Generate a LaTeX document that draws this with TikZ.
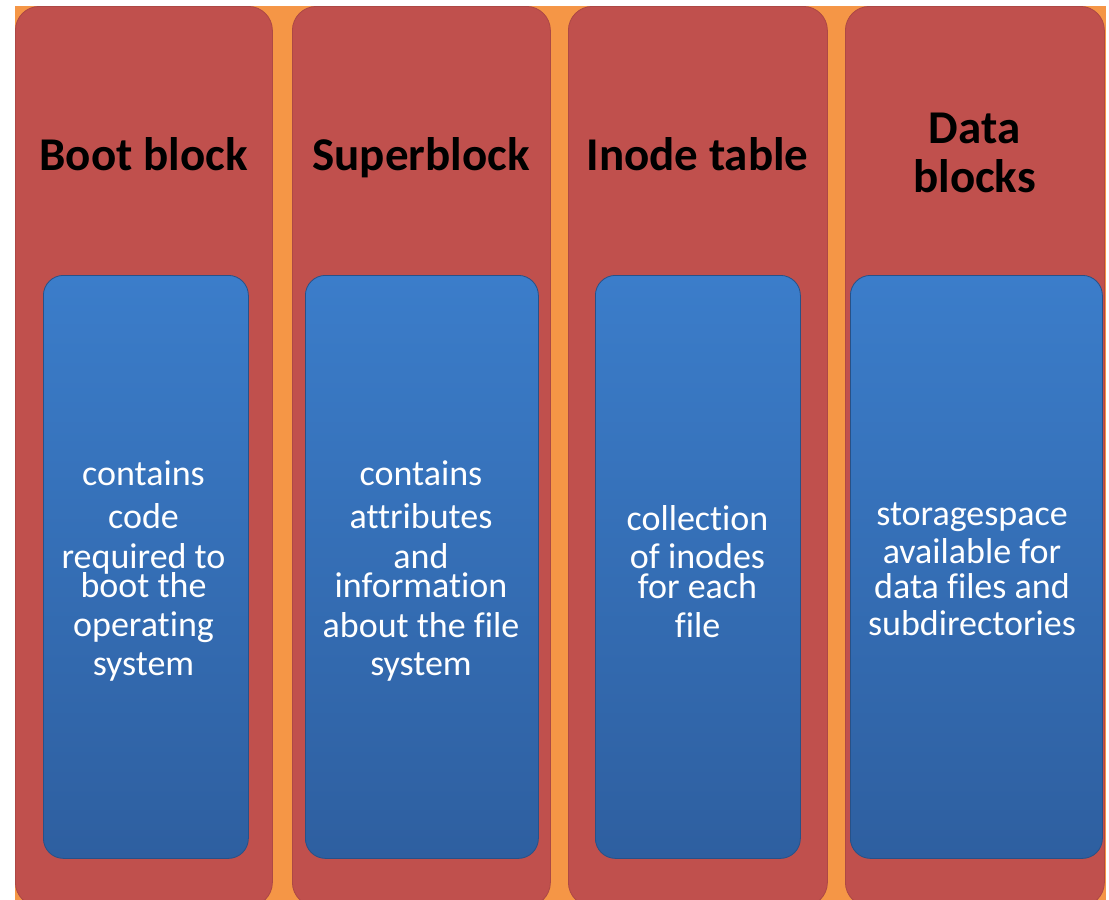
\documentclass[tikz,border=0pt]{standalone}
\usepackage{fontspec}
\setmainfont[Ligatures={NoCommon,NoRare,NoContextual}]{Carlito}
\definecolor{bgorange}{RGB}{245,150,70}
\definecolor{colred}{RGB}{192,80,77}
\definecolor{bluetop}{RGB}{59,125,202}
\definecolor{bluebot}{RGB}{46,95,160}
\begin{document}
\begin{tikzpicture}[x=1pt,y=-1pt,
  col/.style={fill=colred, draw=colred!90!black, line width=0.8pt, rounded corners=24pt, inner sep=0, anchor=north west},
  innerbox/.style={top color=bluetop, bottom color=bluebot, draw=bluebot!85!black, line width=0.8pt, rounded corners=20pt, inner sep=0, anchor=north west},
  titletext/.style={font=\fontsize{47}{56}\selectfont\bfseries, text=black, anchor=base, inner sep=0},
  bodytext/.style={font=\fontsize{36}{40}\selectfont, text=white, anchor=base, inner sep=0}]
\useasboundingbox (0,0) rectangle (1109,900);
\fill[white] (0,0) rectangle (1109,900);
\begin{scope}
\clip (0,0) rectangle (1109,900);
\node[fill=bgorange, minimum width=1091pt, minimum height=900pt, anchor=north west, inner sep=0] (bg) at (15,6) {};
% red columns
\node[col, minimum width=257pt, minimum height=900pt] (c1) at (15,6) {};
\node[col, minimum width=258pt, minimum height=900pt] (c2) at (292,6) {};
\node[col, minimum width=259pt, minimum height=900pt] (c3) at (568,6) {};
\node[col, minimum width=259pt, minimum height=900pt] (c4) at (845,6) {};
% blue boxes
\node[innerbox, minimum width=205pt, minimum height=583pt] (b1) at (43,275) {};
\node[innerbox, minimum width=233pt, minimum height=583pt] (b2) at (305,275) {};
\node[innerbox, minimum width=205pt, minimum height=583pt] (b3) at (595,275) {};
\node[innerbox, minimum width=252pt, minimum height=583pt] (b4) at (850,275) {};
\end{scope}
% titles
\node[titletext] (t1) at (143.5,170) {Boot block};
\node[titletext] (t2) at (421,170) {Superblock};
\node[titletext] (t3) at (697.5,170) {Inode table};
\node[titletext] (t4a) at (974.5,143) {Data};
\node[titletext] (t4b) at (974.5,192) {blocks};
% column 1 text
\node[bodytext] (l1a) at (143.5,485) {contains};
\node[bodytext] (l1b) at (143.5,528) {code};
\node[bodytext] (l1c) at (143.5,568) {required to};
\node[bodytext] (l1d) at (143.5,597) {boot the};
\node[bodytext] (l1e) at (143.5,636) {operating};
\node[bodytext] (l1f) at (143.5,675) {system};
% column 2 text
\node[bodytext] (l2a) at (421,485) {contains};
\node[bodytext] (l2b) at (421,528) {attributes};
\node[bodytext] (l2c) at (421,568) {and};
\node[bodytext] (l2d) at (421,597) {information};
\node[bodytext] (l2e) at (421,637) {about the file};
\node[bodytext] (l2f) at (421,675) {system};
% column 3 text
\node[bodytext] (l3a) at (697.5,530) {collection};
\node[bodytext] (l3b) at (697.5,568) {of inodes};
\node[bodytext] (l3c) at (697.5,598) {for each};
\node[bodytext] (l3d) at (697.5,637) {file};
% column 4 text
\node[bodytext] (l4a) at (972,525) {storagespace};
\node[bodytext] (l4b) at (972,563) {available for};
\node[bodytext] (l4c) at (972,598) {data files and};
\node[bodytext] (l4d) at (972,635) {subdirectories};
\end{tikzpicture}
\end{document}
